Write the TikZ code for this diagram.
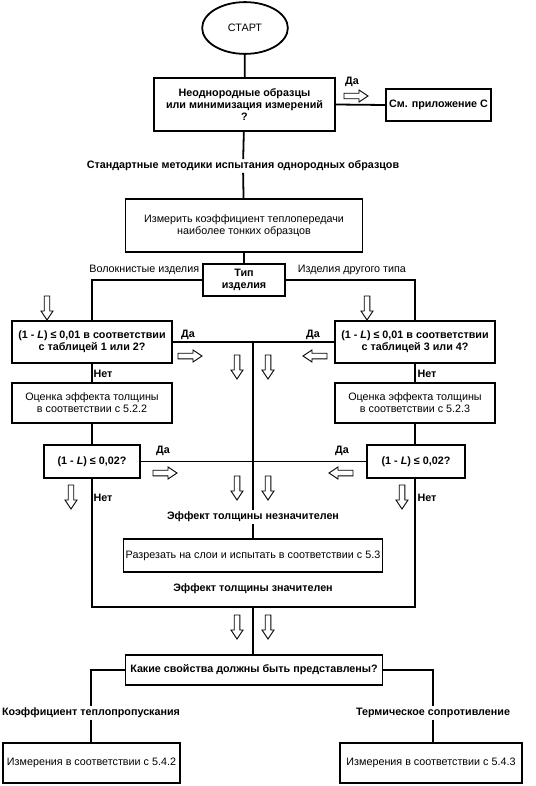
\documentclass[tikz,border=0pt]{standalone}
\usepackage{fontspec}
\setmainfont{Liberation Sans}
\usetikzlibrary{shapes.geometric}
\newcommand{\chartfont}{\fontsize{10.8}{12}\selectfont}
\tikzset{
  box/.style={rectangle,draw,line width=1.8pt,align=center,inner sep=0pt},
  bold/.style={font=\chartfont\bfseries},
  lbl/.style={inner sep=1pt,bold},
  hollow/.pic={\draw[line width=0.9pt,fill=white] (-2.8,0) -- (-2.8,15) -- (-6,15)
     -- (0,24) -- (6,15) -- (2.8,15) -- (2.8,0) -- cycle;}
}
\begin{document}
\begin{tikzpicture}[x=1bp,y=-1bp,font=\chartfont,line width=1.8pt]
    \useasboundingbox (0,0) rectangle (536,786);

    \node[ellipse,draw,line width=1.8pt,minimum width=86,minimum height=52](start) at (245,28) {СТАРТ};
    \node[box,bold,minimum width=181,minimum height=53](inhom) at (244.5,104.5) {Неоднородные образцы\\
        или минимизация измерений\\?};
    \node[box,bold,minimum width=105,minimum height=32](annexC) at (438.5,105) {См. приложение С};
    \node[lbl](std) at (243,166) {Стандартные методики испытания однородных образцов};
    \node[box,minimum width=238,minimum height=53](thin) at (244,225.5) {Измерить коэффициент теплопередачи\\
        наиболее тонких образцов};
    \node[box,bold,minimum width=82,minimum height=32](kind) at (244,280) {Тип\\изделия};
    \node[inner sep=1pt,anchor=east](fibre) at (201,270) {Волокнистые изделия};
    \node[inner sep=1pt,anchor=west](other) at (296,270) {Изделия другого типа};

    \node[box,bold,minimum width=160,minimum height=42](qL1) at (92,342) {(1 - \textit{L}) ≤ 0,01 в соответствии\\
        с таблицей 1 или 2?};
    \node[box,bold,minimum width=160,minimum height=42](qR1) at (415,342) {(1 - \textit{L}) ≤ 0,01 в соответствии\\
        с таблицей 3 или 4?};
    \node[box,minimum width=160,minimum height=40](evL) at (92,403) {Оценка эффекта толщины\\в соответствии с 5.2.2};
    \node[box,minimum width=160,minimum height=40](evR) at (415,403) {Оценка эффекта толщины\\в соответствии с 5.2.3};
    \node[box,bold,minimum width=96,minimum height=33](qL2) at (92,461.5) {(1 - \textit{L}) ≤ 0,02?};
    \node[box,bold,minimum width=98,minimum height=33](qR2) at (416,461.5) {(1 - \textit{L}) ≤ 0,02?};

    \node[lbl](insig) at (253,517) {Эффект толщины незначителен};
    \node[box,minimum width=260,minimum height=33](slice) at (253,555.5) {Разрезать на слои и испытать в соответствии с 5.3};
    \node[lbl](sig) at (253,589) {Эффект толщины значителен};

    \node[box,bold,minimum width=258,minimum height=30](props) at (254,670) {Какие свойства должны быть представлены?};
    \node[lbl](transm) at (91,713) {Коэффициент теплопропускания};
    \node[lbl](resist) at (433,713) {Термическое сопротивление};
    \node[box,minimum width=177,minimum height=40](mL) at (91.5,763) {Измерения в соответствии с 5.4.2};
    \node[box,minimum width=182,minimum height=40](mR) at (431,763) {Измерения в соответствии с 5.4.3};

    \coordinate (midA) at (253,342);
    \coordinate (midB) at (253,607);

    \draw (start) -- (inhom);
    \draw (inhom.east) -- (annexC.west);
    \draw (inhom) -- (std) (std) -- (thin) (thin) -- (kind);
    \draw (kind.west) -| (qL1.north);
    \draw (kind.east) -| (qR1.north);
    \draw (qL1.east) -- (qR1.west);
    \draw (midA) -- (insig.north);
    \draw (insig) -- (slice);
    \draw (qL1) -- (evL) (evL) -- (qL2);
    \draw (qR1) -- (evR) (evR.south) -- (qR2.north -| evR.south);
    \draw (qL2.east) -- (qR2.west);
    \draw (qL2.south) |- (midB) -| (qR2.south -| evR.south);
    \draw (midB) -- (props.north -| midB);
    \draw (props.west) -| (transm.north);
    \draw (props.east) -| (resist.north);
    \draw (transm) -- (mL.north -| transm.south);
    \draw (resist) -- (mR.north -| resist.south);

    \node[lbl](yes0) at (352,82) {Да};
    \node[lbl](yesL1) at (188,335) {Да};
    \node[lbl](yesR1) at (313,335) {Да};
    \node[lbl](noL1) at (103,374) {Нет};
    \node[lbl](noR1) at (427,374) {Нет};
    \node[lbl](yesL2) at (163,451) {Да};
    \node[lbl](yesR2) at (342,451) {Да};
    \node[lbl](noL2) at (103,498) {Нет};
    \node[lbl](noR2) at (427,498) {Нет};

    \pic[rotate=90] at (344,96) {hollow};
    \foreach \x/\y in {47/296,367/296,237/355,268/355,237/476,268/476,71/485,402/485,237/615,268/615}
        \pic at (\x,\y) {hollow};
    \pic[rotate=90] at (178,356) {hollow};
    \pic[rotate=-90] at (327,356) {hollow};
    \pic[rotate=90] at (153,473) {hollow};
    \pic[rotate=-90] at (353,473) {hollow};

\end{tikzpicture}
\end{document}
